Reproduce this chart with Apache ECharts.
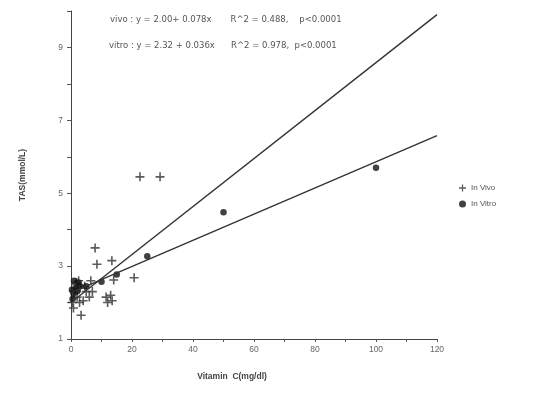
<!DOCTYPE html>
<html>
<head>
<meta charset="utf-8">
<script src="https://cdn.jsdelivr.net/npm/echarts@6/dist/echarts.min.js"></script>
<style>
  html, body { margin: 0; padding: 0; background: #fff; }
  #chart { width: 538px; height: 394px; }
</style>
</head>
<body>
<div id="chart"></div>
<script>
// scatter points: [vitamin C, TAS]
const inVivo = [
  [22.6, 5.45], [29.2, 5.45], [7.9, 3.5], [8.5, 3.05], [13.4, 3.15],
  [20.7, 2.68], [14, 2.62], [11.5, 2.15], [13, 2.2], [12, 2.0], [13.5, 2.05],
  [3.3, 1.65], [6, 2.15], [5, 2.3], [4, 2.05], [2.5, 2.6], [1.5, 2.5],
  [1, 2.3], [0.5, 2.0], [2, 2.15], [3, 2.4], [0.8, 1.85], [1.8, 2.55],
  [4.5, 2.45], [2.8, 2.0], [7, 2.3], [6.5, 2.6]
];
const inVitro = [
  [100, 5.7], [50, 4.48], [25, 3.27], [15, 2.77], [10, 2.57],
  [5, 2.45], [2.5, 2.55], [1.5, 2.4], [0.8, 2.25], [0.5, 2.1],
  [2, 2.3], [3, 2.45], [1, 2.6], [0.3, 2.35]
];
// regression lines as drawn in the picture (end points)
const vivoFit = [[0, 2.0], [120, 9.9]];
const vitroFit = [[0, 2.27], [120, 6.58]];

const yTicks = [1, 3, 5, 7, 9];
const xTicks = [0, 20, 40, 60, 80, 100, 120];

const plusPath = 'path://M4.1,0H5.9V4.1H10V5.9H5.9V10H4.1V5.9H0V4.1H4.1Z';
const font = 'Liberation Sans';
const noteFont = 'DejaVu Sans';

const chart = echarts.init(document.getElementById('chart'));

chart.setOption({
  backgroundColor: '#fff',
  animation: false,
  textStyle: { fontFamily: font },
  grid: { left: 71, right: 101, top: 11, bottom: 55 },
  legend: {
    orient: 'vertical',
    left: 454,
    top: 179,
    itemWidth: 7,
    itemHeight: 7,
    itemGap: 8,
    textStyle: { fontSize: 8, color: '#555', fontFamily: font },
    data: [
      { name: 'In Vivo', icon: plusPath },
      { name: 'In Vitro', icon: 'circle' }
    ]
  },
  xAxis: {
    type: 'value',
    min: 0,
    max: 120,
    interval: 10,
    name: 'Vitamin  C(mg/dl)',
    nameLocation: 'middle',
    nameGap: 33,
    nameTextStyle: {
      fontSize: 8.5, fontWeight: 'bold', color: '#444', fontFamily: font,
      padding: [0, 44, 0, 0]
    },
    axisLine: { lineStyle: { color: '#444', width: 1 } },
    axisTick: { length: 3, lineStyle: { color: '#555' } },
    splitLine: { show: false },
    axisLabel: {
      fontSize: 8.5, color: '#666', margin: 6,
      formatter: v => (xTicks.includes(v) ? String(v) : '')
    }
  },
  yAxis: {
    type: 'value',
    min: 1,
    max: 10,
    interval: 1,
    name: 'TAS(mmol/L)',
    nameLocation: 'middle',
    nameGap: 44,
    nameTextStyle: { fontSize: 8.5, fontWeight: 'bold', color: '#444', fontFamily: font },
    axisLine: { show: true, lineStyle: { color: '#444', width: 1 } },
    axisTick: { show: true, length: 4, lineStyle: { color: '#555' } },
    splitLine: { show: false },
    axisLabel: {
      fontSize: 8.5, color: '#666', margin: 8,
      formatter: v => (yTicks.includes(v) ? String(v) : '')
    }
  },
  graphic: [
    {
      type: 'text', left: 110, top: 15,
      style: {
        text: 'vivo : y = 2.00+ 0.078x       R^2 = 0.488,    p<0.0001',
        fontSize: 8.5, fill: '#555', fontFamily: noteFont
      }
    },
    {
      type: 'text', left: 109, top: 41,
      style: {
        text: 'vitro : y = 2.32 + 0.036x      R^2 = 0.978,  p<0.0001',
        fontSize: 8.5, fill: '#555', fontFamily: noteFont
      }
    }
  ],
  series: [
    {
      name: 'In Vivo',
      type: 'scatter',
      symbol: plusPath,
      symbolSize: 9,
      itemStyle: { color: '#333' },
      data: inVivo
    },
    {
      name: 'In Vitro',
      type: 'scatter',
      symbol: 'circle',
      symbolSize: 6.5,
      itemStyle: { color: '#111' },
      data: inVitro
    },
    {
      name: 'vivo fit',
      type: 'line',
      data: vivoFit,
      showSymbol: false,
      symbol: 'none',
      lineStyle: { color: '#333', width: 1.4 },
      silent: true
    },
    {
      name: 'vitro fit',
      type: 'line',
      data: vitroFit,
      showSymbol: false,
      symbol: 'none',
      lineStyle: { color: '#333', width: 1.4 },
      silent: true
    }
  ]
});
</script>
</body>
</html>
